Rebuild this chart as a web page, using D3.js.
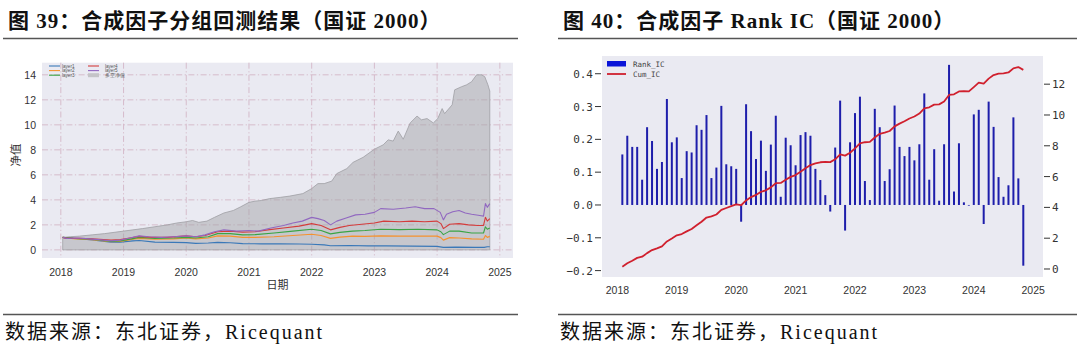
<!DOCTYPE html>
<html><head><meta charset="utf-8">
<script src="https://cdn.jsdelivr.net/npm/d3@7"></script>
<style>body{margin:0;background:#fff}svg{display:block}</style>
</head><body><svg id="c" width="1080" height="350"></svg>
<script>
// ---------- data ----------
const yearTicks = [2018,2019,2020,2021,2022,2023,2024,2025];
const navTicks = [0,2,4,6,8,10,12,14];
const icTicks = [-0.2,-0.1,0.0,0.1,0.2,0.3,0.4];
const cumTicks = [0,2,4,6,8,10,12];
const layerNames = ["layer1","layer2","layer3","layer4","layer5"];
const longShortName = "多空净值";

// [decimal year, net value]
const longShort = [[2018.03,1.0],[2018.15,1.05],[2018.3,1.1],[2018.5,1.2],[2018.7,1.3],[2018.85,1.4],[2019.0,1.5],[2019.15,1.6],[2019.3,1.7],[2019.5,1.85],[2019.7,2.0],[2019.85,2.15],[2020.0,2.25],[2020.1,2.35],[2020.2,2.2],[2020.33,2.3],[2020.45,2.6],[2020.6,2.95],[2020.75,3.15],[2020.87,3.45],[2021.0,3.8],[2021.1,3.9],[2021.2,3.95],[2021.33,4.1],[2021.5,4.2],[2021.65,4.3],[2021.86,4.5],[2022.0,4.9],[2022.1,5.3],[2022.2,5.3],[2022.32,5.5],[2022.4,6.1],[2022.56,6.5],[2022.66,7.0],[2022.82,7.4],[2023.0,8.05],[2023.14,8.4],[2023.22,8.8],[2023.3,8.7],[2023.38,9.5],[2023.46,8.85],[2023.57,10.15],[2023.68,10.7],[2023.75,10.4],[2023.84,10.5],[2023.94,10.15],[2024.01,10.5],[2024.08,11.3],[2024.12,10.9],[2024.24,11.6],[2024.28,12.8],[2024.39,13.05],[2024.47,13.2],[2024.55,13.45],[2024.63,14.0],[2024.71,14.0],[2024.76,13.85],[2024.81,13.2],[2024.84,12.7]];
const layer1 = [[2018.03,1.0],[2018.2,0.93],[2018.5,0.8],[2018.8,0.62],[2018.95,0.62],[2019.15,0.72],[2019.25,0.75],[2019.5,0.62],[2019.8,0.6],[2020.0,0.58],[2020.15,0.52],[2020.35,0.55],[2020.5,0.6],[2020.7,0.57],[2020.9,0.5],[2021.2,0.48],[2021.5,0.48],[2021.8,0.47],[2022.0,0.45],[2022.2,0.4],[2022.3,0.33],[2022.6,0.35],[2022.9,0.32],[2023.2,0.32],[2023.6,0.3],[2024.0,0.28],[2024.1,0.2],[2024.3,0.22],[2024.6,0.2],[2024.75,0.2],[2024.8,0.25],[2024.84,0.25]];
const layer2 = [[2018.03,1.0],[2018.2,0.9],[2018.5,0.82],[2018.8,0.65],[2018.95,0.68],[2019.15,0.85],[2019.25,0.92],[2019.5,0.85],[2019.8,0.88],[2020.0,0.95],[2020.15,0.88],[2020.35,0.95],[2020.5,1.12],[2020.7,1.1],[2020.9,1.0],[2021.1,1.0],[2021.4,1.05],[2021.7,1.15],[2022.0,1.25],[2022.15,1.15],[2022.3,0.92],[2022.45,1.02],[2022.65,1.1],[2022.85,1.08],[2023.1,1.12],[2023.4,1.1],[2023.7,1.1],[2024.0,1.1],[2024.06,0.98],[2024.1,0.78],[2024.2,0.98],[2024.35,0.95],[2024.55,0.88],[2024.74,0.85],[2024.77,1.15],[2024.8,1.0],[2024.84,1.08]];
const layer3 = [[2018.03,1.0],[2018.2,0.92],[2018.5,0.85],[2018.8,0.68],[2018.95,0.72],[2019.15,0.9],[2019.25,1.0],[2019.5,0.92],[2019.8,0.95],[2020.0,1.0],[2020.15,0.95],[2020.35,1.05],[2020.5,1.3],[2020.7,1.3],[2020.9,1.2],[2021.1,1.22],[2021.4,1.35],[2021.7,1.5],[2022.0,1.65],[2022.15,1.55],[2022.3,1.28],[2022.45,1.4],[2022.65,1.5],[2022.85,1.55],[2023.1,1.65],[2023.4,1.62],[2023.7,1.65],[2024.0,1.6],[2024.06,1.45],[2024.1,1.22],[2024.2,1.5],[2024.35,1.5],[2024.55,1.35],[2024.74,1.35],[2024.77,1.85],[2024.8,1.65],[2024.84,1.75]];
const layer4 = [[2018.03,1.0],[2018.1,0.92],[2018.3,0.93],[2018.5,0.88],[2018.8,0.78],[2018.95,0.82],[2019.1,0.95],[2019.25,1.08],[2019.45,1.0],[2019.7,1.0],[2020.0,1.12],[2020.15,1.05],[2020.3,1.15],[2020.5,1.45],[2020.7,1.5],[2020.9,1.42],[2021.1,1.45],[2021.3,1.6],[2021.55,1.75],[2021.8,1.9],[2022.0,2.1],[2022.15,1.95],[2022.3,1.6],[2022.45,1.8],[2022.6,1.95],[2022.8,2.05],[2023.0,2.15],[2023.15,2.3],[2023.4,2.25],[2023.6,2.3],[2023.8,2.25],[2024.0,2.3],[2024.06,2.1],[2024.1,1.7],[2024.2,2.05],[2024.35,2.1],[2024.5,2.0],[2024.65,1.95],[2024.74,1.95],[2024.77,2.6],[2024.8,2.3],[2024.84,2.5]];
const layer5 = [[2018.03,1.0],[2018.1,0.92],[2018.25,0.95],[2018.4,0.9],[2018.6,0.82],[2018.8,0.72],[2018.95,0.78],[2019.1,0.95],[2019.25,1.12],[2019.4,1.05],[2019.6,1.0],[2019.8,1.05],[2020.0,1.12],[2020.15,1.05],[2020.3,1.2],[2020.45,1.45],[2020.6,1.6],[2020.8,1.5],[2021.0,1.55],[2021.15,1.5],[2021.35,1.75],[2021.55,1.95],[2021.7,2.15],[2021.85,2.3],[2022.0,2.6],[2022.1,2.5],[2022.2,2.35],[2022.3,2.0],[2022.4,2.3],[2022.55,2.55],[2022.7,2.8],[2022.85,2.85],[2023.0,3.0],[2023.1,3.3],[2023.3,3.25],[2023.5,3.35],[2023.65,3.45],[2023.8,3.3],[2023.95,3.3],[2024.05,3.0],[2024.1,2.4],[2024.15,2.85],[2024.25,3.05],[2024.35,3.15],[2024.45,2.95],[2024.55,2.85],[2024.68,2.75],[2024.74,2.7],[2024.77,3.7],[2024.8,3.4],[2024.84,3.7]];

// monthly Rank IC, Jan 2018 .. Oct 2024
const rankIC = [0.154,0.211,0.177,0.177,0.077,0.237,0.195,0.110,0.131,0.323,
0.191,0.206,0.082,0.164,0.160,0.243,0.229,0.274,0.082,0.114,
0.302,0.124,0.118,0.110,-0.051,0.307,0.225,0.140,0.196,0.104,
0.184,0.272,0.025,0.205,0.182,0.121,0.213,0.222,0.211,0.110,
0.076,0.030,-0.020,0.175,0.318,-0.078,0.191,0.280,0.330,0.073,
0.015,0.293,0.237,0.073,0.109,0.303,0.177,0.149,0.177,0.136,
0.185,0.340,0.077,0.170,0.013,0.185,0.427,0.041,0.188,0.008,
-0.002,0.276,0.290,-0.058,0.315,0.238,0.085,0.025,0.060,0.267,
0.081,-0.185];
const cumIC = [0.15,0.37,0.54,0.72,0.80,1.03,1.23,1.34,1.47,1.79,
1.98,2.19,2.27,2.44,2.60,2.84,3.07,3.34,3.42,3.54,
3.84,3.96,4.08,4.19,4.14,4.45,4.67,4.81,5.01,5.11,
5.30,5.57,5.59,5.80,5.98,6.10,6.31,6.54,6.75,6.86,
6.93,6.96,6.94,7.12,7.44,7.36,7.55,7.83,8.16,8.23,
8.25,8.54,8.78,8.85,8.96,9.26,9.44,9.59,9.77,9.90,
10.09,10.43,10.50,10.67,10.69,10.87,11.30,11.34,11.53,11.54,
11.53,11.81,12.10,12.04,12.36,12.59,12.68,12.70,12.76,13.03,
13.11,12.93];
const icStart = [2018, 1]; // first month (year, month), month-end dates

// ---------- drawing ----------
const svg = d3.select("#c");
svg.append("rect").attr("width",1080).attr("height",350).attr("fill","#fff");

const titleFont = "'Liberation Serif','Noto Sans CJK SC',serif";
const cjkSerif = "'Liberation Serif','Noto Sans CJK SC',serif";
const sans = "'Liberation Sans',Arial,sans-serif";
const mono = "'DejaVu Sans Mono',monospace";
const BG = "#eaeaf2";

function header(x0, x1, title, textX){
  svg.append("text").attr("x",textX).attr("y",27.5).attr("font-family",titleFont)
    .attr("font-weight","bold").attr("font-size",21).attr("letter-spacing",1)
    .attr("fill","#111").text(title);
  svg.append("line").attr("x1",x0).attr("x2",x1).attr("y1",38.5).attr("y2",38.5)
    .attr("stroke","#555").attr("stroke-width",1.6);
  svg.append("line").attr("x1",x0).attr("x2",x1).attr("y1",314.5).attr("y2",314.5)
    .attr("stroke","#555").attr("stroke-width",1.6);
  svg.append("text").attr("x",textX-3).attr("y",338.5).attr("font-family",cjkSerif)
    .attr("font-size",20).attr("letter-spacing",2).attr("fill","#111").text("数据来源：东北证券，Ricequant");
}
header(3,518,"图 39：合成因子分组回测结果（国证 2000）",8);
header(558,1077,"图 40：合成因子 Rank IC（国证 2000）",563);

// ---------- left chart ----------
const L = {x0:42, x1:513, y0:62.7, y1:258};
const xL = d3.scaleLinear().domain([2017.7,2025.21]).range([L.x0,L.x1]);
const yL = d3.scaleLinear().domain([-0.65,14.97]).range([L.y1,L.y0]);
const gL = svg.append("g");
gL.append("rect").attr("x",L.x0).attr("y",L.y0).attr("width",L.x1-L.x0).attr("height",L.y1-L.y0).attr("fill",BG);
const gridStyle = s => s.attr("stroke","#d4b7c6").attr("stroke-width",0.9).attr("stroke-dasharray","6,2.5,1.2,2.5");
gL.selectAll(".hg").data(navTicks).join("line").attr("x1",L.x0).attr("x2",L.x1)
  .attr("y1",d=>yL(d)).attr("y2",d=>yL(d)).call(gridStyle);
gL.selectAll(".vg").data(yearTicks).join("line").attr("y1",L.y0).attr("y2",L.y1)
  .attr("x1",d=>xL(d)).attr("x2",d=>xL(d)).call(gridStyle);

gL.append("path").datum(longShort)
  .attr("d",d3.area().x(d=>xL(d[0])).y0(yL(0)).y1(d=>yL(d[1])))
  .attr("fill","#a4a4a8").attr("fill-opacity",0.5).attr("stroke","#a0a0a4").attr("stroke-width",0.8);

const layerColors = ["#3a78b8","#f5922e","#3aa444","#d43c3c","#9168c0"];
const layers = [layer1,layer2,layer3,layer4,layer5];
const lineGen = d3.line().x(d=>xL(d[0])).y(d=>yL(d[1]));
layers.forEach((s,i)=>{
  gL.append("path").datum(s).attr("d",lineGen).attr("fill","none")
    .attr("stroke",layerColors[i]).attr("stroke-width",1.1).attr("stroke-linejoin","round");
});

// left axes labels
gL.selectAll(".yt").data(navTicks).join("text").attr("x",36).attr("y",d=>yL(d)+3.8)
  .attr("text-anchor","end").attr("font-family",sans).attr("font-size",10.5).attr("fill","#333").text(d=>d);
gL.selectAll(".xt").data(yearTicks).join("text").attr("x",d=>xL(d)).attr("y",275.5)
  .attr("text-anchor","middle").attr("font-family",sans).attr("font-size",10.5).attr("fill","#333").text(d=>d);
gL.append("text").attr("x",(L.x0+L.x1)/2).attr("y",289).attr("text-anchor","middle")
  .attr("font-family","'Noto Sans CJK SC',sans-serif").attr("font-size",11).attr("fill","#333").text("日期");
gL.append("text").attr("transform","translate(20,155) rotate(-90)").attr("text-anchor","middle")
  .attr("font-family","'Noto Sans CJK SC',sans-serif").attr("font-size",11.5).attr("fill","#333").text("净值");

// left legend
const legItems = layerNames.map((n,i)=>({name:n,color:layerColors[i],type:"line"}))
  .concat([{name:longShortName,color:"#c4c4c8",type:"patch"}]);
legItems.forEach((it,i)=>{
  const col = Math.floor(i/3), row = i%3;
  const lx = col===0?49:88, ly = 66+row*4.6;
  if(it.type==="line"){
    gL.append("line").attr("x1",lx).attr("x2",lx+11).attr("y1",ly).attr("y2",ly).attr("stroke",it.color).attr("stroke-width",1.1);
  } else {
    gL.append("rect").attr("x",lx).attr("y",ly-2).attr("width",11).attr("height",4).attr("fill",it.color);
  }
  gL.append("text").attr("x",lx+(col===0?13:17)).attr("y",ly+1.6).attr("font-family",sans)
    .attr("font-size",4.6).attr("fill","#555").text(it.name);
});

// ---------- right chart ----------
const R = {x0:602, x1:1043, y0:56, y1:277};
const xR = d3.scaleLinear().domain([2017.741,2025.165]).range([R.x0,R.x1]);
const yR = d3.scaleLinear().domain([-0.2195,0.454]).range([R.y1,R.y0]);
const yR2 = d3.scaleLinear().domain([-0.52,13.83]).range([R.y1,R.y0]);
const monthDec = i => icStart[0] + (icStart[1]-1 + i + 1)/12; // month-end
const gR = svg.append("g");
gR.append("rect").attr("x",R.x0).attr("y",R.y0).attr("width",R.x1-R.x0).attr("height",R.y1-R.y0).attr("fill",BG);

gR.selectAll(".bar").data(rankIC).join("rect")
  .attr("x",(d,i)=>xR(monthDec(i))-1)
  .attr("width",2)
  .attr("y",d=>yR(Math.max(0,d)))
  .attr("height",d=>Math.abs(yR(d)-yR(0)))
  .attr("fill","#1e1eab");

gR.append("path").datum(cumIC)
  .attr("d",d3.line().x((d,i)=>xR(monthDec(i))).y(d=>yR2(d)))
  .attr("fill","none").attr("stroke","#d0202e").attr("stroke-width",1.8).attr("stroke-linejoin","round");

// ticks
gR.selectAll(".lt").data(icTicks).join("line").attr("x1",R.x0-7).attr("x2",R.x0-1)
  .attr("y1",d=>yR(d)).attr("y2",d=>yR(d)).attr("stroke","#333").attr("stroke-width",1);
gR.selectAll(".ltl").data(icTicks).join("text").attr("x",R.x0-9).attr("y",d=>yR(d)+4)
  .attr("text-anchor","end").attr("font-family",mono).attr("font-size",11).attr("fill","#333")
  .text(d=>d3.format(".1f")(d).replace("-","−"));
gR.selectAll(".rt").data(cumTicks).join("line").attr("x1",R.x1+1).attr("x2",R.x1+7)
  .attr("y1",d=>yR2(d)).attr("y2",d=>yR2(d)).attr("stroke","#333").attr("stroke-width",1);
gR.selectAll(".rtl").data(cumTicks).join("text").attr("x",R.x1+9).attr("y",d=>yR2(d)+4)
  .attr("font-family",mono).attr("font-size",11).attr("fill","#333").text(d=>d);
gR.selectAll(".xtl").data(yearTicks).join("text").attr("x",d=>xR(d)).attr("y",294)
  .attr("text-anchor","middle").attr("font-family",sans).attr("font-size",10.5).attr("fill","#333").text(d=>d);

// right legend
gR.append("rect").attr("x",607).attr("y",61).attr("width",19).attr("height",5.5).attr("fill","#0a14d8");
gR.append("line").attr("x1",607).attr("x2",626).attr("y1",74).attr("y2",74).attr("stroke","#d0202e").attr("stroke-width",1.8);
gR.append("text").attr("x",633).attr("y",66.5).attr("font-family",mono).attr("font-size",7.5).attr("fill","#444").text("Rank_IC");
gR.append("text").attr("x",633).attr("y",76.5).attr("font-family",mono).attr("font-size",7.5).attr("fill","#444").text("Cum_IC");
</script></body></html>
